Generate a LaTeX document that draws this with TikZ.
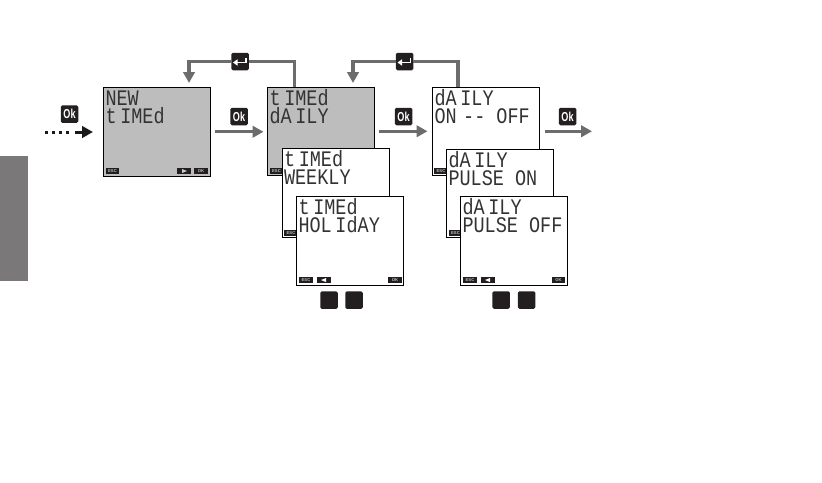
\documentclass[tikz,border=0pt]{standalone}
\usepackage{fontspec}
\setmainfont{Liberation Sans}
\newfontfamily\lcdfont{Liberation Mono}
\usetikzlibrary{arrows.meta,calc}
\definecolor{lcdgrey}{HTML}{BDBDBD}
\definecolor{linegrey}{HTML}{6C6C6C}
\definecolor{tabgrey}{HTML}{7A7878}
\definecolor{keyblack}{HTML}{231F20}
\tikzset{
  x=1pt,y=-1pt,
  panel/.style={draw=black,line width=0.9pt,inner sep=0pt,outer sep=0pt,minimum width=107pt,minimum height=88.5pt,anchor=north west},
  lcdtext/.style={anchor=base west,inner sep=0pt,outer sep=0pt,text=black!80,font=\lcdfont\fontsize{18.5}{18.5}\selectfont},
  softkey/.style={fill=keyblack,inner sep=0pt,outer sep=0pt,minimum width=13.5pt,minimum height=6pt,text=black!25,font=\fontsize{4.2}{4.2}\selectfont\bfseries},
  keycap/.style={fill=keyblack,rounded corners=1.5pt,inner sep=0pt,outer sep=0pt,minimum width=17.5pt,minimum height=17.5pt,text=white,font=\fontsize{13}{13}\selectfont\bfseries},
  flow/.style={draw=linegrey,line width=3.4pt},
  flowtip/.style={flow,-{Triangle[length=11pt,width=11.5pt]}},
}
% name, x, y, fill, line 1, line 2
\newcommand{\lcdpanel}[6]{%
  \node[panel,fill=#4] (#1) at (#2,#3) {};
  \node[lcdtext] (#1-a) at ($(#2,#3)+(2,18)$) {\scalebox{1}[1.2]{\spaceskip=.2em\relax #5}};
  \node[lcdtext] (#1-b) at ($(#2,#3)+(2,36)$) {\scalebox{1}[1.2]{\spaceskip=.2em\relax #6}};
}
\newcommand{\okkey}[3]{\node[keycap] (#1) at (#2,#3) {\scalebox{.7}[1]{Ok}};}
\newcommand{\enterkey}[3]{%
  \node[keycap] (#1) at (#2,#3) {};
  \draw[white,line width=1.6pt] ($(#1)+(6,-3.5)$) -- ($(#1)+(6,1)$) -- ($(#1)+(-3,1)$);
  \fill[white] ($(#1)+(-7,1)$) -- ($(#1)+(-2.5,-2.2)$) -- ($(#1)+(-2.5,4.2)$) -- cycle;
}
\begin{document}
\begin{tikzpicture}
\useasboundingbox (0,0) rectangle (822,482);
\fill[tabgrey] (0,156) rectangle (28,281);

% feedback and flow connectors
\coordinate (fbAs) at (294.5,87);
\coordinate (fbAe) at (189,83);
\coordinate (fbBs) at (458,87);
\coordinate (fbBe) at (353,83);
\coordinate (inS) at (45,132);
\coordinate (inE) at (93,132);
\coordinate (outE) at (592,132);

% screens
\lcdpanel{p1}{103.5}{87.5}{lcdgrey}{NEW}{t IMEd}
\node[softkey] (p1esc) at (112.5,171) {ESC};
\node[softkey] (p1arr) at (184,171) {};
\fill[black!20] ($(p1arr)+(3,0)$) -- ($(p1arr)+(-2,-2)$) -- ($(p1arr)+(-2,2)$) -- cycle;
\node[softkey] (p1ok) at (201,171) {OK};

\lcdpanel{p2}{267.5}{87}{lcdgrey}{t IMEd}{dA ILY}
\node[softkey] (p2esc) at (276.5,171) {ESC};
\lcdpanel{p3}{282}{148.5}{white}{t IMEd}{WEEKLY}
\node[softkey] (p3esc) at (291,233) {ESC};
\lcdpanel{p4}{296.5}{196.5}{white}{t IMEd}{HOL IdAY}
\node[softkey] (p4esc) at (306,280) {ESC};
\node[softkey] (p4arr) at (324,280) {};
\fill[white] ($(p4arr)+(-3,0)$) -- ($(p4arr)+(2,-2)$) -- ($(p4arr)+(2,2)$) -- cycle;
\node[softkey] (p4ok) at (395,280) {OK};

\lcdpanel{p5}{432.5}{87}{white}{dA ILY}{ON\hspace{.35em}-{}-\hspace{.6em}OFF}
\node[softkey] (p5esc) at (441,171) {ESC};
\lcdpanel{p6}{446.5}{149}{white}{dA ILY}{PULSE\hspace{.6em}ON}
\node[softkey] (p6esc) at (455.5,233) {ESC};
\lcdpanel{p7}{460.5}{196.5}{white}{dA ILY}{PULSE\hspace{.6em}OFF}
\node[softkey] (p7esc) at (470,280) {ESC};
\node[softkey] (p7arr) at (488,280) {};
\fill[white] ($(p7arr)+(-3,0)$) -- ($(p7arr)+(2,-2)$) -- ($(p7arr)+(2,2)$) -- cycle;
\node[softkey] (p7ok) at (558.5,280) {OK};

% keys
\okkey{k0}{69.5}{114}
\okkey{k1}{239}{116.5}
\okkey{k2}{403.5}{116.5}
\okkey{k3}{567.5}{116.5}
\enterkey{e1}{240}{61.5}
\enterkey{e2}{404.5}{61.5}

% connectors
\draw[flow] (fbAs) |- (e1);
\draw[flowtip] (e1) -| (fbAe);
\draw[flow] (fbBs) |- (e2);
\draw[flowtip] (e2) -| (fbBe);
\draw[flowtip,shorten <=4pt,shorten >=4pt] (p1.east) -- (p2.west |- p1.east);
\draw[flowtip,shorten <=4pt,shorten >=5pt] (p2.east) -- (p5.west);
\draw[flowtip,shorten <=5pt] (p5.east) -- (outE |- p5.east);
\draw[draw=black!90,line width=3pt,dash pattern=on 3pt off 4pt] (inS) -- (72,132);
\draw[draw=black!90,line width=3pt,-{Triangle[length=11pt,width=11.5pt]}] (75,132) -- (inE);

% key blanks
\node[keycap] (b1) at (329,300) {};
\node[keycap] (b2) at (354,300) {};
\node[keycap] (b3) at (501,300) {};
\node[keycap] (b4) at (526.5,300) {};
\end{tikzpicture}
\end{document}
